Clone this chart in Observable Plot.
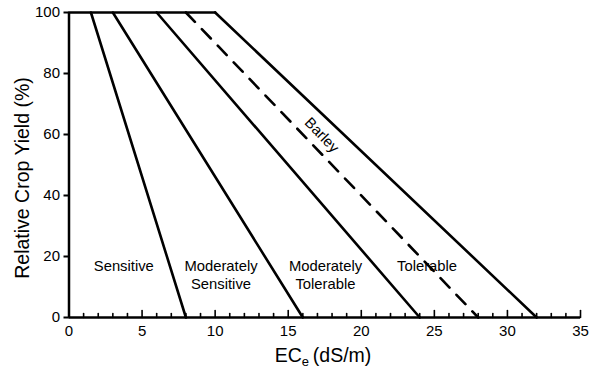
<!DOCTYPE html>
<html><head><meta charset="utf-8">
<script src="https://cdn.jsdelivr.net/npm/d3@7"></script>
<script src="https://cdn.jsdelivr.net/npm/@observablehq/plot@0.6"></script>
<style>body{margin:0;background:#fff}</style>
</head><body><div id="chart"></div>
<script>
// Salt tolerance classes (Maas–Hoffman style)
const groups = ["Sensitive", "Moderately\nSensitive", "Moderately\nTolerable", "Tolerable"];
const thresholdEC = [1.5, 3, 6, 10];   // ECe where yield begins to fall (100 %)
const zeroYieldEC = [8, 16, 24, 32];   // ECe at zero yield
const labelX = [3.75, 10.4, 17.55, 24.5];
const labelY = 19.5;
const barleyThreshold = 8;
const barleyZero = 28;
const barleyLabelX = 17.3, barleyLabelY = 59.8;
const xMajorTicks = [0, 5, 10, 15, 20, 25, 30, 35];
const xMinorTicks = [1,2,3,4,6,7,8,9,11,12,13,14,16,17,18,19,21,22,23,24,26,27,28,29,31,32,33,34];
const yTicks = [0, 20, 40, 60, 80, 100];

const lines = groups.flatMap((g, i) => [
  {x: thresholdEC[i], y: 100, g},
  {x: zeroYieldEC[i], y: 0, g}
]);
const plateau = [{x: 0, y: 100}, {x: d3.max(thresholdEC), y: 100}];
const barley = [{x: barleyThreshold, y: 100}, {x: barleyZero, y: 0}];

const tickShape = {draw(context, l) { context.moveTo(0, 0); context.lineTo(0, -l); }};

const chart = Plot.plot({
  width: 594, height: 368,
  marginLeft: 68.5, marginRight: 14, marginTop: 12, marginBottom: 51,
  x: {domain: [0, 35]},
  y: {domain: [0, 100]},
  style: {fontFamily: "'Liberation Sans', Arial, Helvetica, sans-serif", fontSize: "14.5px", color: "black", background: "white"},
  marks: [
    Plot.axisY(yTicks, {tickSize: 5, tickPadding: 4, fontSize: 15, strokeWidth: 2, label: null}),
    Plot.axisX(xMajorTicks, {tickSize: 0, tickPadding: 8, fontSize: 15, label: null}),
    Plot.vector(xMinorTicks, {x: d => d, y: 0, length: 4, rotate: 0, anchor: "start", shape: tickShape, stroke: "black", strokeWidth: 1.6}),
    Plot.vector(xMajorTicks, {x: d => d, y: 0, length: 7, rotate: 0, anchor: "start", shape: tickShape, stroke: "black", strokeWidth: 1.6}),
    Plot.ruleY([0], {strokeWidth: 2.5}),
    Plot.ruleX([0], {strokeWidth: 2.5}),
    Plot.line(plateau, {x: "x", y: "y", strokeWidth: 2.6}),
    Plot.line(lines, {x: "x", y: "y", z: "g", strokeWidth: 2.6}),
    Plot.line(barley, {x: "x", y: "y", strokeWidth: 2.6, strokeDasharray: "13,10"}),
    Plot.text(groups, {x: (d, i) => labelX[i], y: labelY, text: d => d, lineAnchor: "top", lineHeight: 1.24, fontSize: 14.8}),
    Plot.text(["Barley"], {x: barleyLabelX, y: barleyLabelY, text: d => d, rotate: 46, fontSize: 14.8}),
    Plot.text(["Relative Crop Yield (%)"], {frameAnchor: "left", textAnchor: "middle", rotate: -90, dx: -46, dy: 13, fontSize: 19.5, text: d => d})
  ]
});

// x-axis title with subscript
const svg = d3.select(chart);
const t = svg.append("text")
  .attr("x", 323).attr("y", 362)
  .attr("text-anchor", "middle")
  .attr("font-size", 19.5)
  .attr("fill", "black");
t.append("tspan").text("EC");
t.append("tspan").attr("font-size", 13).attr("dy", 4).text("e");
t.append("tspan").attr("dy", -4).text("\u2009(dS/m)");

document.getElementById("chart").append(chart);
</script>
</body></html>
